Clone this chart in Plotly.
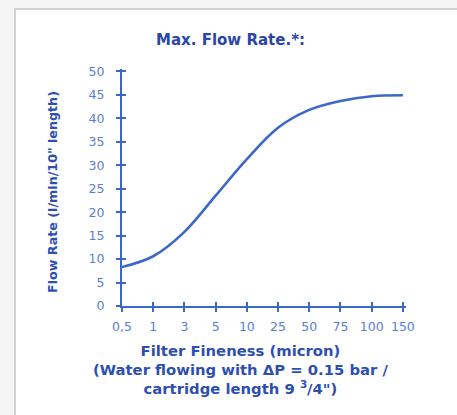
import plotly.graph_objects as go

categories = ["0,5", "1", "3", "5", "10", "25", "50", "75", "100", "150"]
flow_rate = [8.3, 10.6, 15.8, 23.5, 31.3, 38.0, 41.8, 43.7, 44.7, 44.9]
y_ticks = [0, 5, 10, 15, 20, 25, 30, 35, 40, 45, 50]

title_text = "Max. Flow Rate.*:"
x_title = ("Filter Fineness (micron)<br>(Water flowing with \u0394P = 0.15 bar /<br>"
           "cartridge length 9 <sup>3</sup>/4\")")
y_title = "Flow Rate (l/min/10\" length)"

AXIS = "#3d67c6"
TICK = "#5a7ed4"
TITLE = "#2e4fb0"

idx = list(range(len(categories)))

fig = go.Figure()
fig.add_trace(go.Scatter(x=idx, y=flow_rate, mode="lines",
                         line=dict(color="#3c68c8", width=2.6, shape="spline", smoothing=1.0),
                         hoverinfo="skip", showlegend=False))
fig.add_trace(go.Scatter(x=idx, y=flow_rate, mode="lines", xaxis="x2", yaxis="y2",
                         line=dict(color="rgba(0,0,0,0)", width=0),
                         hoverinfo="skip", showlegend=False))

common_x = dict(range=[0, 9.1], tickvals=idx, showgrid=False, zeroline=False,
                showline=True, linecolor=AXIS, linewidth=2, tickcolor=AXIS, tickwidth=1.5, ticklen=4)
common_y = dict(range=[0, 50.5], tickvals=y_ticks, showgrid=False, zeroline=False,
                showline=True, linecolor=AXIS, linewidth=2, tickcolor=AXIS, tickwidth=1.5, ticklen=4)

fig.update_layout(
    width=457, height=415,
    margin=dict(l=122, r=51, t=69, b=109),
    paper_bgcolor="#f5f5f5",
    plot_bgcolor="rgba(0,0,0,0)",
    xaxis=dict(**common_x, ticks="outside", ticktext=categories,
               tickfont=dict(family="DejaVu Sans", size=12.5, color=TICK), ticklabelstandoff=4),
    yaxis=dict(**common_y, ticks="outside",
               tickfont=dict(family="DejaVu Sans", size=12.5, color=TICK), ticklabelstandoff=9),
    xaxis2=dict(**common_x, ticks="inside", showticklabels=False, overlaying="x", anchor="y2"),
    yaxis2=dict(**common_y, ticks="inside", showticklabels=False, overlaying="y", anchor="x2"),
    shapes=[dict(type="rect", xref="paper", yref="paper", x0=(15 - 122) / 284, x1=1.3,
                 y0=-0.6, y1=(306 - 9) / 237, fillcolor="white",
                 line=dict(color="#d2d2d2", width=2), layer="below")],
    annotations=[
        dict(text="<b>" + title_text + "</b>", xref="paper", yref="paper",
             x=(230 - 122) / 284, y=(306 - 40) / 237, xanchor="center", yanchor="middle",
             showarrow=False,
             font=dict(family="DejaVu Sans", size=15, color="#2a46a8")),
        dict(text="<b>" + x_title + "</b>", xref="paper", yref="paper",
             x=(240 - 122) / 284, y=(306 - 340) / 237, xanchor="center", yanchor="top",
             showarrow=False,
             font=dict(family="DejaVu Sans", size=14.8, color=TITLE)),
        dict(text="<b>" + y_title + "</b>", xref="paper", yref="paper", textangle=-90,
             x=(52 - 122) / 284, y=(306 - 192) / 237, xanchor="center", yanchor="middle",
             showarrow=False,
             font=dict(family="DejaVu Sans", size=12.7, color=TITLE)),
    ],
)

fig.write_html("out.html", config={"displayModeBar": False},
               post_script="document.body.style.margin='0px';")
